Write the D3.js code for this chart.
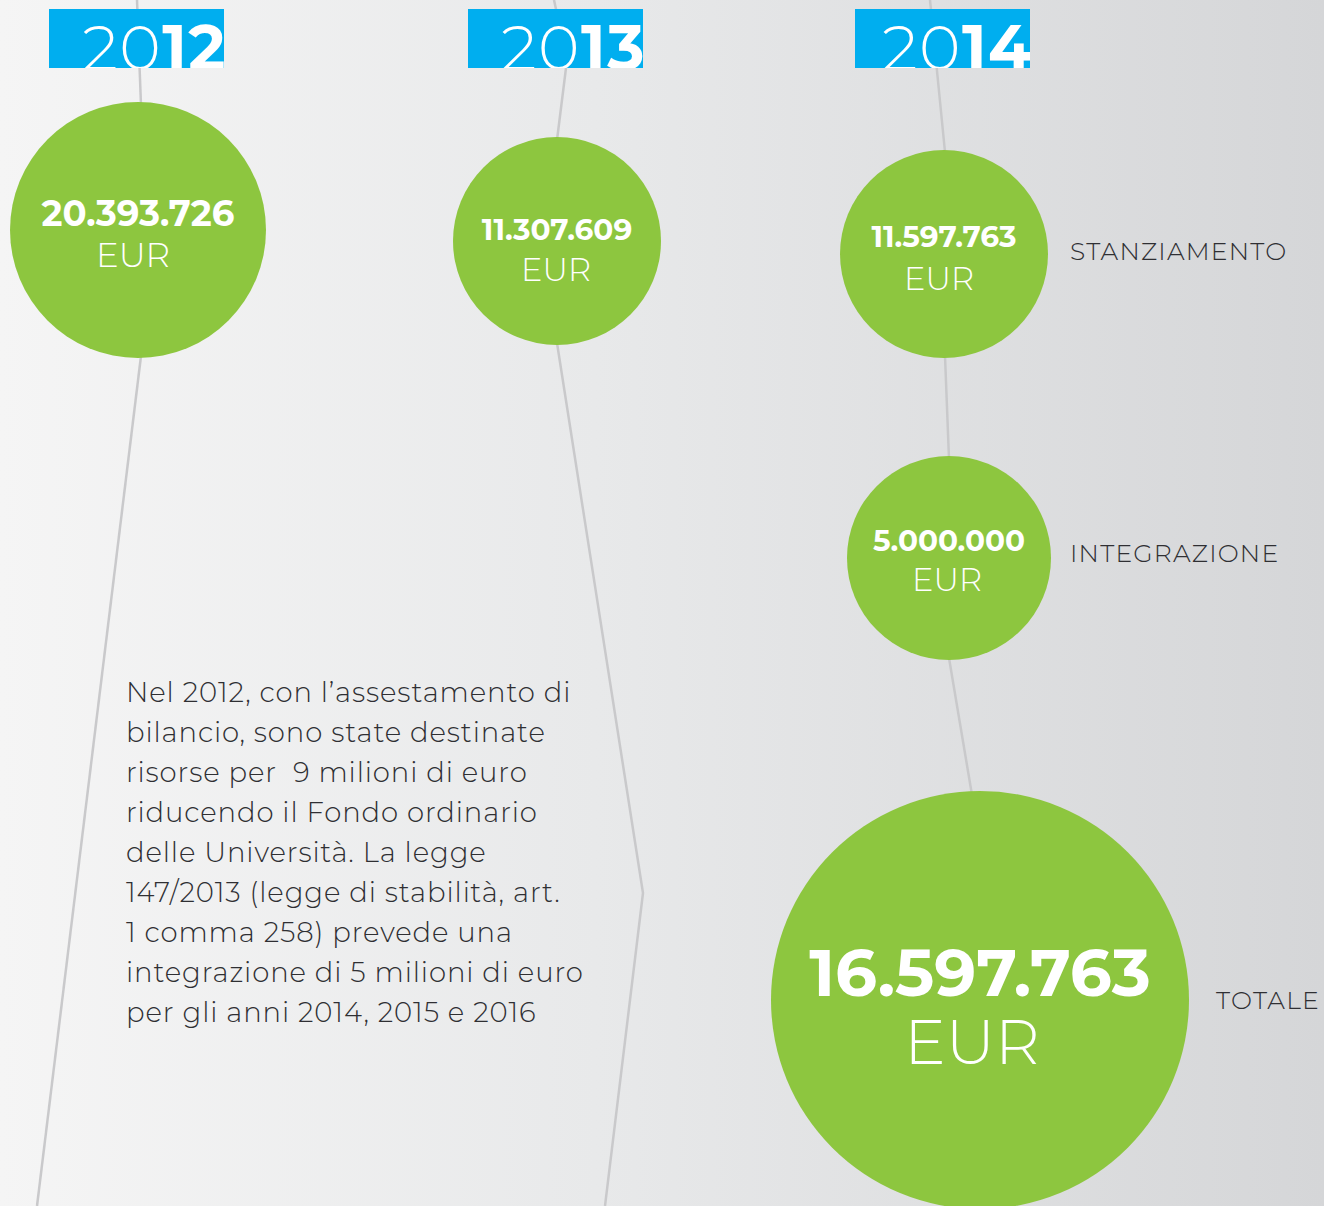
<!DOCTYPE html>
<head>
  <meta charset="utf-8">
  <script src="https://d3js.org/d3.v7.min.js"></script>
  <style>
    body { margin:0; overflow:hidden; }
    .amount { fill: white; font-family: 'Montserrat', 'Lato', sans-serif; font-weight: 700; text-anchor: middle; }
    .eur { fill: white; font-family: 'Montserrat', 'Lato', sans-serif; font-weight: 300; text-anchor: middle; }
    .rowLabel { fill: #2f2f33; font-family: 'Montserrat', 'Lato', sans-serif; font-weight: 300; font-size: 25px; letter-spacing: 1.2px; }
    .note { fill: #2f2f33; font-family: 'Montserrat', 'Lato', sans-serif; font-weight: 300; font-size: 27.5px; letter-spacing: 0.9px; }
    .yearText { fill: white; font-family: 'Montserrat', 'Lato', sans-serif; font-size: 63px; letter-spacing: 1.5px; }
  </style>
</head>
<body>
<script>
  // data
  const years = ['2012', '2013', '2014'];
  const amounts = [20393726, 11307609, 11597763, 5000000, 16597763];
  const amountYears = ['2012', '2013', '2014', '2014', '2014'];
  const amountLabels = ['', '', 'STANZIAMENTO', 'INTEGRAZIONE', 'TOTALE'];
  const noteLines = [
    "Nel 2012, con l\u2019assestamento di",
    "bilancio, sono state destinate",
    "risorse per  9 milioni di euro",
    "riducendo il Fondo ordinario",
    "delle Universit\u00e0. La legge",
    "147/2013 (legge di stabilit\u00e0, art.",
    "1 comma 258) prevede una",
    "integrazione di 5 milioni di euro",
    "per gli anni 2014, 2015 e 2016"
  ];

  const width = 1324, height = 1206;

  // layout (not data): column positions and bubble geometry
  const colX = d3.scaleOrdinal().domain(years).range([138, 557, 944]);
  const boxX = d3.scaleOrdinal().domain(years).range([49, 468, 855]);
  const bubbles = [
    {dx: 0,  cy: 230,  r: 128, numSize: 35.5, eurSize: 34, numY: 226, eurY: 267, eurDx: -5},
    {dx: 0,  cy: 241,  r: 104, numSize: 29.5, eurSize: 32, numY: 240, eurY: 281, eurDx: -1},
    {dx: 0,  cy: 254,  r: 104, numSize: 29.5, eurSize: 32, numY: 247, eurY: 290, eurDx: -5},
    {dx: 5,  cy: 558,  r: 102, numSize: 29.5, eurSize: 32, numY: 551, eurY: 591, eurDx: -2},
    {dx: 36, cy: 1000, r: 209, numSize: 66, eurSize: 62, numY: 996, eurY: 1064, eurDx: -8}
  ];
  const labelPos = [null, null, [1070, 260], [1070, 562], [1216, 1009]];

  // connecting guide lines
  const guides = [
    [[137, 0], [141, 105]],
    [[141, 356], [37, 1206]],
    [[554, 0], [567, 60], [557, 140]],
    [[557, 343], [643, 893], [605, 1206]],
    [[930, 0], [945, 152]],
    [[945, 356], [949, 459]],
    [[949, 658], [972, 795]]
  ];

  const fmt = d3.formatLocale({decimal: ',', thousands: '.', grouping: [3], currency: ['', '']}).format(',d');

  const svg = d3.select('body').append('svg')
    .attr('width', width)
    .attr('height', height);

  const defs = svg.append('defs');
  const grad = defs.append('linearGradient').attr('id', 'bg').attr('x1', 0).attr('x2', 1).attr('y1', 0).attr('y2', 0);
  grad.append('stop').attr('offset', 0).attr('stop-color', '#f5f5f5');
  grad.append('stop').attr('offset', 0.45).attr('stop-color', '#e8e9ea');
  grad.append('stop').attr('offset', 1).attr('stop-color', '#d5d6d8');

  svg.append('rect').attr('width', width).attr('height', height).attr('fill', 'url(#bg)');

  // guide lines
  svg.append('g').selectAll('path')
    .data(guides)
    .join('path')
    .attr('d', d3.line())
    .attr('fill', 'none')
    .attr('stroke', '#c9c9cb')
    .attr('stroke-width', 2.5);

  // year boxes (text clipped by the box)
  const yearG = svg.append('g').selectAll('g')
    .data(years)
    .join('g')
    .attr('transform', d => `translate(${boxX(d)}, 9)`);

  yearG.append('clipPath')
    .attr('id', (d, i) => 'clip' + i)
    .append('rect').attr('width', 175).attr('height', 59);

  yearG.append('rect')
    .attr('width', 175).attr('height', 59)
    .attr('fill', '#00aeef');

  const yt = yearG.append('text')
    .attr('class', 'yearText')
    .attr('clip-path', (d, i) => `url(#clip${i})`)
    .attr('x', 178)
    .attr('y', 61)
    .attr('text-anchor', 'end');
  yt.append('tspan').attr('font-weight', 300).text(d => d.slice(0, 2));
  yt.append('tspan').attr('font-weight', 700).text(d => d.slice(2));

  // bubbles
  const bub = svg.append('g').selectAll('g')
    .data(amounts)
    .join('g')
    .attr('transform', (d, i) => `translate(${colX(amountYears[i]) + bubbles[i].dx}, 0)`);

  bub.append('circle')
    .attr('cy', (d, i) => bubbles[i].cy)
    .attr('r', (d, i) => bubbles[i].r)
    .attr('fill', '#8dc63f');

  bub.append('text')
    .attr('class', 'amount')
    .attr('y', (d, i) => bubbles[i].numY)
    .style('font-size', (d, i) => bubbles[i].numSize + 'px')
    .text(d => fmt(d));

  bub.append('text')
    .attr('class', 'eur')
    .attr('x', (d, i) => bubbles[i].eurDx)
    .attr('y', (d, i) => bubbles[i].eurY)
    .style('font-size', (d, i) => bubbles[i].eurSize + 'px')
    .text('EUR');

  // row labels for 2014
  svg.append('g').selectAll('text')
    .data(amountLabels.map((t, i) => ({t, p: labelPos[i]})).filter(d => d.t))
    .join('text')
    .attr('class', 'rowLabel')
    .attr('x', d => d.p[0])
    .attr('y', d => d.p[1])
    .text(d => d.t);

  // note paragraph
  svg.append('g').selectAll('text')
    .data(noteLines)
    .join('text')
    .attr('class', 'note')
    .attr('x', 126)
    .attr('y', (d, i) => 702 + i * 40)
    .attr('xml:space', 'preserve')
    .style('white-space', 'pre')
    .text(d => d);
</script>
</body>
